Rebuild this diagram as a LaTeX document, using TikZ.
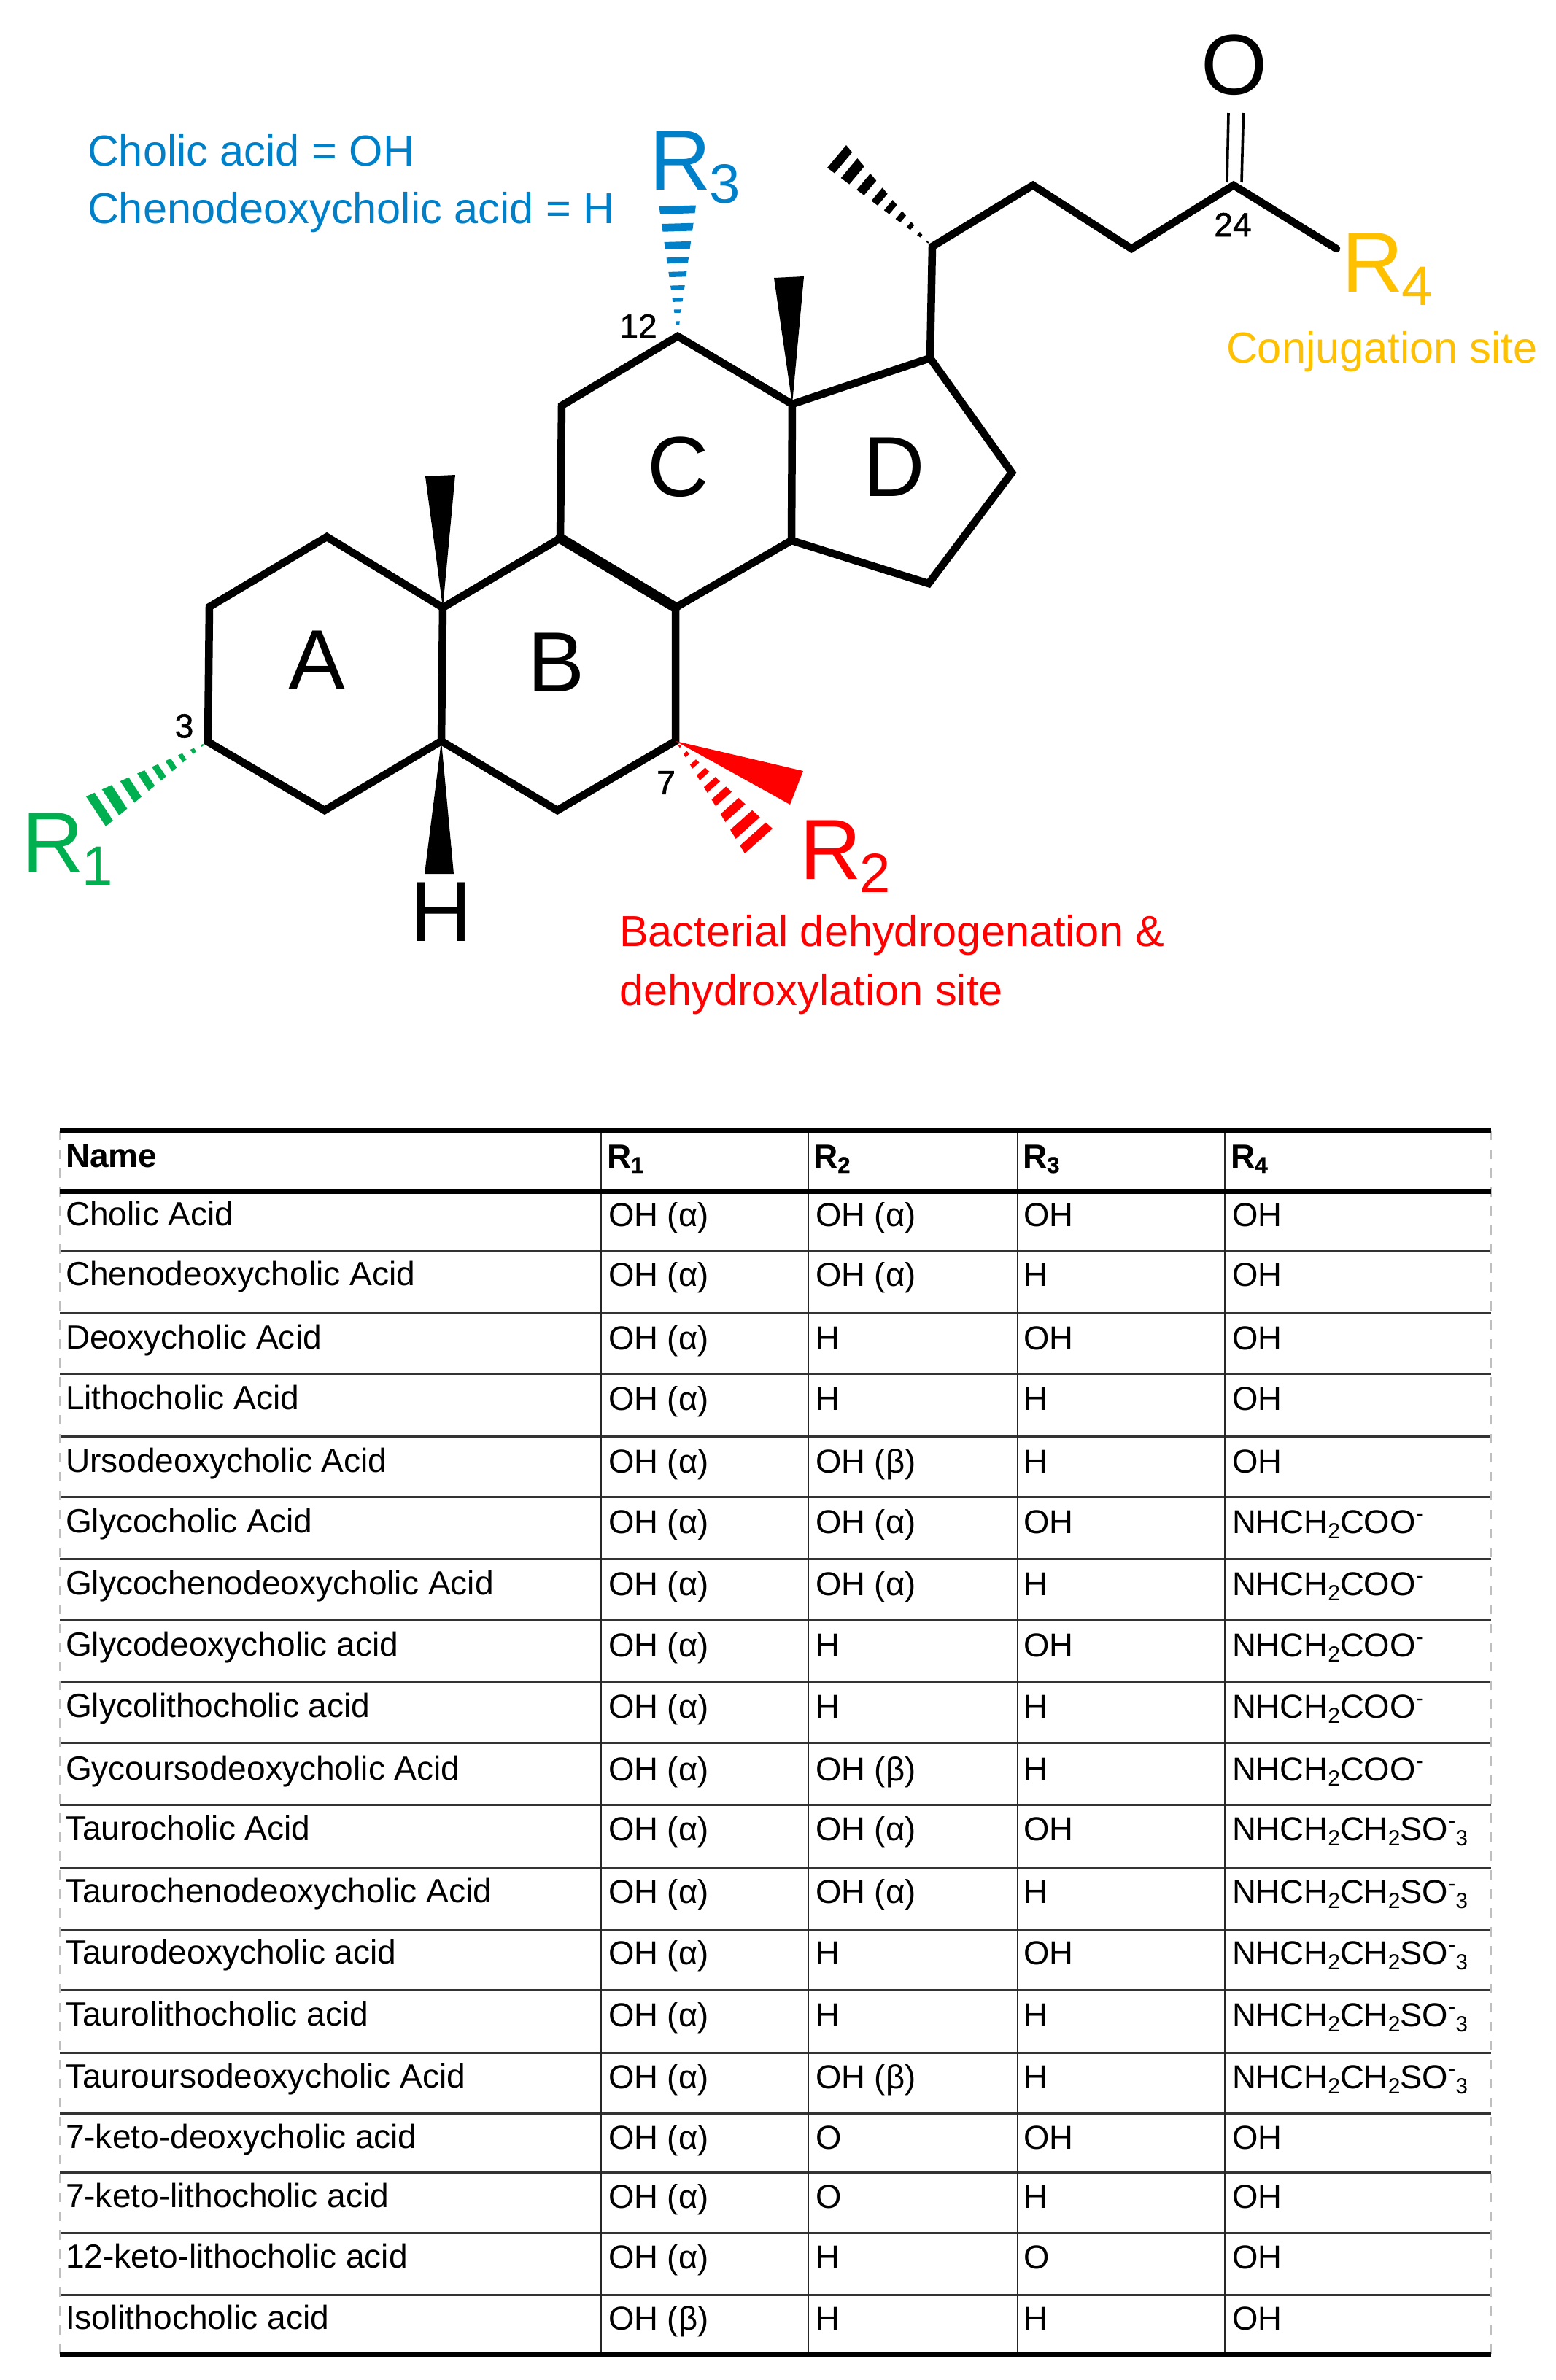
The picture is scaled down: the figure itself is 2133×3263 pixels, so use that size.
\documentclass[tikz,border=0pt]{standalone}
\usepackage{fontspec}
\setmainfont{Liberation Sans}
\newfontfamily\numfont[FakeBold=1.2]{Liberation Sans}
\usetikzlibrary{calc}
\definecolor{cblue}{HTML}{0080C8}
\definecolor{cgreen}{HTML}{00B050}
\definecolor{cred}{HTML}{FF0000}
\definecolor{cyel}{HTML}{FFC000}
\newcommand{\fs}[1]{\fontsize{#1}{#1}\selectfont}
\newcommand{\tsub}[1]{\raisebox{-7pt}{\fs{30}#1}}
\newcommand{\tsup}[1]{\raisebox{17pt}{\fs{30}#1}}
\newcommand{\hsub}[1]{\raisebox{-7pt}{\numfont\fs{31}#1}}
\newcommand{\bigR}[1]{R\kern-2pt\raisebox{-18pt}{\fs{76}#1}}
\newcommand{\oha}{OH (α)}
\newcommand{\ohb}{OH (β)}
\newcommand{\glyc}{NHCH\tsub{2}COO\tsup{-}}
\newcommand{\taur}{NHCH\tsub{2}CH\tsub{2}SO\tsup{-}\tsub{3}}
\newcommand{\heavyhash}{1/.93,.87/.79,.72/.65,.58/.52,.46/.41,.35/.305,.245/.21,.145/.115,.06/.04}
\newcommand{\lighthash}{1/.94,.865/.805,.725/.67,.605/.56,.495/.455,.39/.355,.295/.265,.205/.18,.115/.09}
\newcommand{\hashw}[5]{%
  \foreach \t/\s in #5{%
    \fill[#4] ($(#1)!\t!(#2)$) -- ($(#1)!\t!(#3)$) -- ($(#1)!\s!(#3)$) -- ($(#1)!\s!(#2)$) -- cycle;
  }%
}
\tikzset{
  bond/.style={line width=10.5pt,line join=miter,line cap=round,black},
  thickbond/.style={line width=14pt,line cap=round,black},
  dbl/.style={line width=3.6pt,black},
  tx/.style={anchor=base west,inner sep=0pt,outer sep=0pt},
  lab/.style={tx,font=\fs{117}},
  num/.style={anchor=center,inner sep=0pt,font=\numfont\fs{46}},
  ringl/.style={anchor=center,inner sep=0pt,font=\fs{117}},
  note/.style={tx,font=\fs{59.5}},
  cell/.style={tx,font=\fs{45.5}},
  ncell/.style={tx,font=\fs{46.1}},
  hcell/.style={tx,font=\fs{46}\bfseries},
  rowrule/.style={line width=3pt,black!80},
  thickrule/.style={line width=7pt,black},
  colrule/.style={line width=2pt,black!85},
  siderule/.style={line width=1.6pt,black!25,dash pattern=on 13pt off 13pt}
}
\begin{document}
\begin{tikzpicture}[x=1pt,y=-1pt]
\fill[white] (0,0) rectangle (2133,3263);
\useasboundingbox (0,0) rectangle (2133,3263);
% atoms
\coordinate (c1) at (448,736);
\coordinate (c2) at (287,832);
\coordinate (c3) at (285,1017);
\coordinate (c4) at (445,1111);
\coordinate (c5) at (605,1016);
\coordinate (c6) at (764,1111);
\coordinate (c7) at (926,1016);
\coordinate (c8) at (926,833);
\coordinate (c9) at (768,738);
\coordinate (c10) at (607,833);
\coordinate (c11) at (770,556);
\coordinate (c12) at (929,461);
\coordinate (c13) at (1086,554);
\coordinate (c14) at (1085,741);
\coordinate (c15) at (1273,800);
\coordinate (c16) at (1387,648);
\coordinate (c17) at (1275,491);
\coordinate (c20) at (1278,338);
\coordinate (c22) at (1416,254);
\coordinate (c23) at (1551,341);
\coordinate (c24) at (1691,254);
\coordinate (r4end) at (1832,341);
% wedge corners
\coordinate (m10a) at (583,653); \coordinate (m10b) at (624,651);
\coordinate (m13a) at (1061,381); \coordinate (m13b) at (1102,379);
\coordinate (ha) at (582,1198); \coordinate (hb) at (622,1198);
\coordinate (r2a) at (1101,1057); \coordinate (r2b) at (1083,1103);
\coordinate (hr2a) at (1059,1136); \coordinate (hr2b) at (1021,1170);
\coordinate (hr1a) at (118,1092); \coordinate (hr1b) at (145,1133);
\coordinate (hr3a) at (903.5,283); \coordinate (hr3b) at (954,281.5);
\coordinate (h21a) at (1134,230); \coordinate (h21b) at (1160,199);
\coordinate (oa1) at (1684,155); \coordinate (oa2) at (1682,250);
\coordinate (ob1) at (1704.5,155); \coordinate (ob2) at (1702,250);
% rings
\draw[bond] (c10) -- (c1) -- (c2) -- (c3) -- (c4) -- (c5) -- (c6) -- (c7) -- (c8);
\draw[bond] (c10) -- (c5);
\draw[bond] (c10) -- (c9) -- (c11) -- (c12) -- (c13) -- (c14) -- (c8);
\draw[thickbond] (c9) -- (c8);
\draw[bond] (c14) -- (c15) -- (c16) -- (c17) -- (c13);
\draw[bond] (c17) -- (c20) -- (c22) -- (c23) -- (c24) -- (r4end);
\draw[dbl] (oa1) -- (oa2);
\draw[dbl] (ob1) -- (ob2);
% wedges
\fill[black] (c10) -- (m10a) -- (m10b) -- cycle;
\fill[black] (c13) -- (m13a) -- (m13b) -- cycle;
\fill[black] (c5) -- (ha) -- (hb) -- cycle;
\fill[cred] (c7) -- (r2a) -- (r2b) -- cycle;
\hashw{c7}{hr2a}{hr2b}{cred}{\heavyhash}
\hashw{c3}{hr1a}{hr1b}{cgreen}{\heavyhash}
\hashw{c12}{hr3a}{hr3b}{cblue}{\lighthash}
\hashw{c20}{h21a}{h21b}{black}{\heavyhash}
% atom and ring labels
\node[lab] (oxy) at (1646,129) {O};
\node[lab] (hyd) at (562,1290) {H};
\node[ringl] (ringA) at (435,905) {A};
\node[ringl] (ringB) at (763,908) {B};
\node[ringl] (ringC) at (930,640) {C};
\node[ringl] (ringD) at (1226,640) {D};
\node[num] (n3) at (252.5,995.5) {3};
\node[num] (n7) at (913,1073) {7};
\node[num] (n12) at (875,447) {12};
\node[num] (n24) at (1690,308) {24};
\node[lab,text=cgreen] (r1) at (30,1195) {\bigR{1}};
\node[lab,text=cred] (r2) at (1096,1205) {\bigR{2}};
\node[lab,text=cblue] (r3) at (890,260) {\bigR{3}};
\node[lab,text=cyel] (r4) at (1839,400) {\bigR{4}};
\node[note,text=cblue] (t1) at (120,227) {Cholic acid = OH};
\node[note,text=cblue] (t2) at (120,306) {Chenodeoxycholic acid = H};
\node[note,text=cyel] (t3) at (1681,497) {Conjugation site};
\node[note,text=cred] (t4) at (849,1297) {Bacterial dehydrogenation \&};
\node[note,text=cred] (t5) at (849,1378) {dehydroxylation site};
% table rules
\foreach \y in {1715,1800,1883,1969,2052,2137,2220,2306,2389,2474,2560,2645,2728,2814,2897,2978,3061,3146}{
  \draw[rowrule] (82,\y) -- (2044,\y);
}
\foreach \x in {824,1108,1395,1679}{
  \draw[colrule] (\x,1550) -- (\x,3227);
}
\draw[siderule] (82,1550) -- (82,3227);
\draw[siderule] (2044,1550) -- (2044,3227);
\draw[thickrule] (82,1550) -- (2044,1550);
\draw[thickrule] (82,1633) -- (2044,1633);
\draw[thickrule] (82,3227) -- (2044,3227);
% header
\node[hcell] (hname) at (90,1600) {Name};
\node[hcell] (hr1) at (832,1601) {R\hsub{1}};
\node[hcell] (hr2) at (1115,1601) {R\hsub{2}};
\node[hcell] (hr3) at (1402,1601) {R\hsub{3}};
\node[hcell] (hr4) at (1687,1601) {R\hsub{4}};
% rows
\foreach \i/\ty/\nm/\ra/\rb/\rc/\rd in {
 1/1633/Cholic Acid/\oha/\oha/OH/OH,
 2/1715/Chenodeoxycholic Acid/\oha/\oha/H/OH,
 3/1802/Deoxycholic Acid/\oha/H/OH/OH,
 4/1885/Lithocholic Acid/\oha/H/H/OH,
 5/1971/Ursodeoxycholic Acid/\oha/\ohb/H/OH,
 6/2054/Glycocholic Acid/\oha/\oha/OH/\glyc,
 7/2139/Glycochenodeoxycholic Acid/\oha/\oha/H/\glyc,
 8/2223/Glycodeoxycholic acid/\oha/H/OH/\glyc,
 9/2307/Glycolithocholic acid/\oha/H/H/\glyc,
 10/2393/Gycoursodeoxycholic Acid/\oha/\ohb/H/\glyc,
 11/2475/Taurocholic Acid/\oha/\oha/OH/\taur,
 12/2561/Taurochenodeoxycholic Acid/\oha/\oha/H/\taur,
 13/2645/Taurodeoxycholic acid/\oha/H/OH/\taur,
 14/2730/Taurolithocholic acid/\oha/H/H/\taur,
 15/2815/Tauroursodeoxycholic Acid/\oha/\ohb/H/\taur,
 16/2898/7-keto-deoxycholic acid/\oha/O/OH/OH,
 17/2979/7-keto-lithocholic acid/\oha/O/H/OH,
 18/3062/12-keto-lithocholic acid/\oha/H/O/OH,
 19/3146/Isolithocholic acid/\ohb/H/H/OH}{
  \node[ncell] (name\i) at (90,\ty+47) {\nm};
  \node[cell] (ra\i) at (834,\ty+48) {\ra};
  \node[cell] (rb\i) at (1118,\ty+48) {\rb};
  \node[cell] (rc\i) at (1403.5,\ty+48) {\rc};
  \node[cell] (rd\i) at (1689,\ty+48) {\rd};
}
\end{tikzpicture}
\end{document}
